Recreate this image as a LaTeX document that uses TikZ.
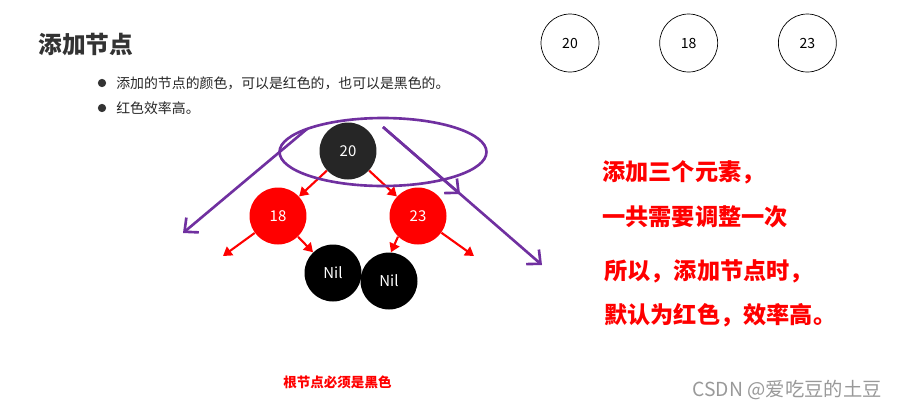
\documentclass[tikz,border=0pt]{standalone}
\usepackage{fontspec}
\setmainfont{Noto Sans CJK SC}
\usetikzlibrary{arrows.meta,shapes.geometric,positioning,calc}
\definecolor{rbpurple}{HTML}{7030A0}
\definecolor{rbred}{HTML}{FF0000}
\definecolor{rbdark}{HTML}{262626}
\definecolor{headgray}{HTML}{333333}
\tikzset{
    keynode/.style={draw,circle,minimum size=1.16cm,inner sep=0pt,font=\fontsize{8}{8}\selectfont},
    blk/.style={circle,fill=black,text=white,minimum size=1.14cm,inner sep=0pt,font=\fontsize{8.5}{8.5}\selectfont},
    rd/.style={blk,fill=rbred},
    ring/.style={draw=rbpurple,ellipse,line width=1.5pt,minimum width=4.14cm,minimum height=1.36cm},
    redline/.style={-{Triangle[length=5pt,width=6pt]},draw=rbred,fill=rbred,line width=1.2pt},
    purpline/.style={-{Straight Barb[length=6pt,width=11pt]},draw=rbpurple,line width=1.5pt},
    note/.style={anchor=west,inner sep=0pt,text=rbred,font=\fontsize{13.2}{13.2}\selectfont\bfseries},
    bullet/.style={draw=headgray,fill=headgray,circle,inner sep=0pt,minimum size=0.15cm},
    itemtext/.style={anchor=west,inner sep=0pt,text=black!85,font=\fontsize{7.9}{7.9}\selectfont},
}
\begin{document}
\begin{tikzpicture}[x=0.02cm,y=-0.02cm]
\useasboundingbox (0,0) rectangle (899,410);
% heading and list
\node[anchor=west,inner sep=0pt,text=headgray,font=\fontsize{13.5}{13.5}\selectfont\bfseries] (head) at (38,44) {添加节点};
\node[bullet] (b1) at (102,83) {};
\node[itemtext] (t1) at (116,83) {添加的节点的颜色，可以是红色的，也可以是黑色的。};
\node[bullet] (b2) at (102,108) {};
\node[itemtext] (t2) at (116,108) {红色效率高。};
% the three keys
\node[keynode] (k20) at (570,43) {20};
\node[keynode,right=1.2cm of k20] (k18) {18};
\node[keynode,right=1.2cm of k18] (k23) {23};
% tree
\node[blk,fill=rbdark] (root) at (348,151) {20};
\node[rd] (n18) at (278,216) {18};
\node[rd] (n23) at (418,216) {23};
\node[blk] (nil1) at (333,273) {Nil};
\node[blk] (nil2) at (389,281) {Nil};
\coordinate (l18) at (223,256);
\coordinate (r23) at (474,256);
\draw[redline] (root) -- (n18);
\draw[redline] (root) -- (n23);
\draw[redline] (n18) -- (l18);
\draw[redline] (n18) -- (nil1);
\draw[redline] (n23.226) -- (nil2.86);
\draw[redline] (n23) -- (r23);
% rotation hint
\node[ring] (ring) at (383,152) {};
\coordinate (pl0) at (307,129);
\coordinate (pl1) at (183,233);
\coordinate (pr0) at (383,127);
\coordinate (pr1) at (460,194);
\coordinate (pr2) at (542,265);
\draw[purpline] (pl0) -- (pl1);
\draw[purpline] (pr0) -- (pr1);
\draw[purpline] (pr0) -- (pr2);
% remarks
\node[note] (m1) at (602,172) {添加三个元素，};
\node[note] (m2) at (602,217) {一共需要调整一次};
\node[note] (m3) at (604,271) {所以，添加节点时，};
\node[note] (m4) at (604,315) {默认为红色，效率高。};
\node[anchor=west,inner sep=0pt,text=rbred,font=\fontsize{7.7}{7.7}\selectfont\bfseries] (rootrule) at (283,382) {根节点必须是黑色};
\node[anchor=east,inner sep=0pt,text=black!40,font=\fontsize{11}{11}\selectfont] (mark) at (882,390) {CSDN @爱吃豆的土豆};
\end{tikzpicture}
\end{document}
